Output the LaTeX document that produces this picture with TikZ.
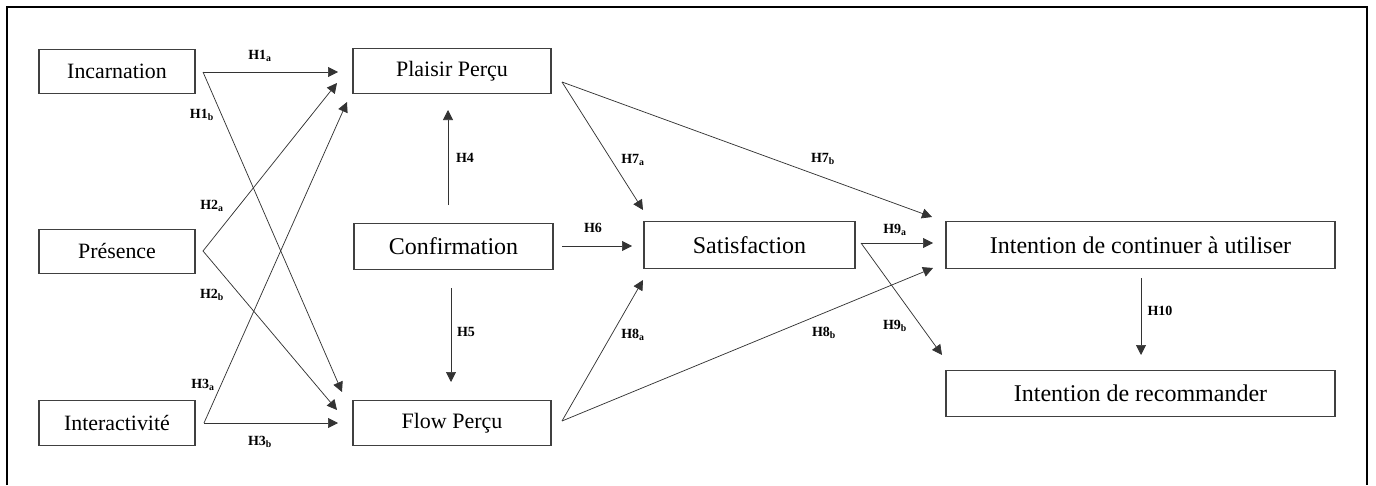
\documentclass[tikz,border=0pt]{standalone}
\usepackage{fontspec}
\setmainfont{Liberation Serif}
\usetikzlibrary{arrows.meta}
\tikzset{
  box/.style={draw=black!75,line width=0.9pt,inner sep=0pt},
  leftbox/.style={box,minimum width=117pt,minimum height=33.5pt,font=\fontsize{16.4}{18}\selectfont},
  midbox/.style={box,minimum width=148.5pt,minimum height=33.5pt,font=\fontsize{16.5}{18}\selectfont},
  bigbox/.style={box,minimum height=35pt,font=\fontsize{18}{20}\selectfont},
  hyp/.style={-{Triangle[length=7.5pt,width=7.5pt]},draw=black!80,line width=0.55pt},
  lab/.style={font=\fontsize{10.5}{12}\selectfont\bfseries,inner sep=0pt}
}
\begin{document}
\begin{tikzpicture}[x=0.75pt,y=-0.75pt]
\useasboundingbox (0,0) rectangle (1376,485);
% cadre
\draw[line width=1.5pt] (7,485) -- (7,7) -- (1367,7) -- (1367,485);

% variables
\node[leftbox] (inc) at (117,71.5) {Incarnation};
\node[leftbox] (pres) at (117,251.5) {Présence};
\node[leftbox] (inter) at (117,423) {Interactivité};
\node[midbox] (plaisir) at (452,71) {Plaisir Perçu};
\node[bigbox,minimum width=149.25pt] (conf) at (453.5,246.5) {Confirmation};
\node[midbox] (flow) at (452,423) {Flow Perçu};
\node[bigbox,minimum width=158.25pt] (sat) at (749.5,245) {Satisfaction};
\node[bigbox,minimum width=291.75pt] (icu) at (1140.5,245) {Intention de continuer à utiliser};
\node[bigbox,minimum width=291.75pt] (irec) at (1140.5,393.5) {Intention de recommander};

% points de depart / d'arrivee
\coordinate (incOut) at (203,72);
\coordinate (presOut) at (203,251);
\coordinate (interOut) at (204,423);
\coordinate (confUp) at (448,205);
\coordinate (confDown) at (451,288);
\coordinate (confOut) at (562,246);
\coordinate (plaisirOut) at (562,82);
\coordinate (flowOut) at (562,421);
\coordinate (satOut) at (861,243);
\coordinate (icuOut) at (1141,278);
\coordinate (plaisirIn1) at (338,72);
\coordinate (plaisirIn2) at (337,83);
\coordinate (plaisirIn3) at (347,102);
\coordinate (plaisirIn4) at (448,110);
\coordinate (flowIn1) at (342,392);
\coordinate (flowIn2) at (337,410);
\coordinate (flowIn3) at (338,423);
\coordinate (flowIn4) at (451,382);
\coordinate (satIn1) at (643,210);
\coordinate (satIn2) at (632,246);
\coordinate (satIn3) at (643,280);
\coordinate (icuIn1) at (932,217);
\coordinate (icuIn2) at (933,243);
\coordinate (icuIn3) at (933,268);
\coordinate (irecIn1) at (942,355);
\coordinate (irecIn2) at (1141,355);

\draw[hyp] (incOut) -- (plaisirIn1);
\draw[hyp] (incOut) -- (flowIn1);
\draw[hyp] (presOut) -- (plaisirIn2);
\draw[hyp] (presOut) -- (flowIn2);
\draw[hyp] (interOut) -- (plaisirIn3);
\draw[hyp] (interOut) -- (flowIn3);
\draw[hyp] (confUp) -- (plaisirIn4);
\draw[hyp] (confDown) -- (flowIn4);
\draw[hyp] (confOut) -- (satIn2);
\draw[hyp] (plaisirOut) -- (satIn1);
\draw[hyp] (plaisirOut) -- (icuIn1);
\draw[hyp] (flowOut) -- (satIn3);
\draw[hyp] (flowOut) -- (icuIn3);
\draw[hyp] (satOut) -- (icuIn2);
\draw[hyp] (satOut) -- (irecIn1);
\draw[hyp] (icuOut) -- (irecIn2);

% hypotheses
\node[lab] (h1a) at (260,56) {H1\textsubscript{a}};
\node[lab] (h1b) at (202,115) {H1\textsubscript{b}};
\node[lab] (h2a) at (212,206) {H2\textsubscript{a}};
\node[lab] (h2b) at (212,295) {H2\textsubscript{b}};
\node[lab] (h3a) at (203,385) {H3\textsubscript{a}};
\node[lab] (h3b) at (260,442) {H3\textsubscript{b}};
\node[lab] (h4) at (465,158) {H4};
\node[lab] (h5) at (466,332) {H5};
\node[lab] (h6) at (593,228) {H6};
\node[lab] (h7a) at (633,160) {H7\textsubscript{a}};
\node[lab] (h7b) at (823,159) {H7\textsubscript{b}};
\node[lab] (h8a) at (633,335) {H8\textsubscript{a}};
\node[lab] (h8b) at (824,333) {H8\textsubscript{b}};
\node[lab] (h9a) at (895,230) {H9\textsubscript{a}};
\node[lab] (h9b) at (895,326) {H9\textsubscript{b}};
\node[lab] (h10) at (1160,311) {H10};
\end{tikzpicture}
\end{document}
